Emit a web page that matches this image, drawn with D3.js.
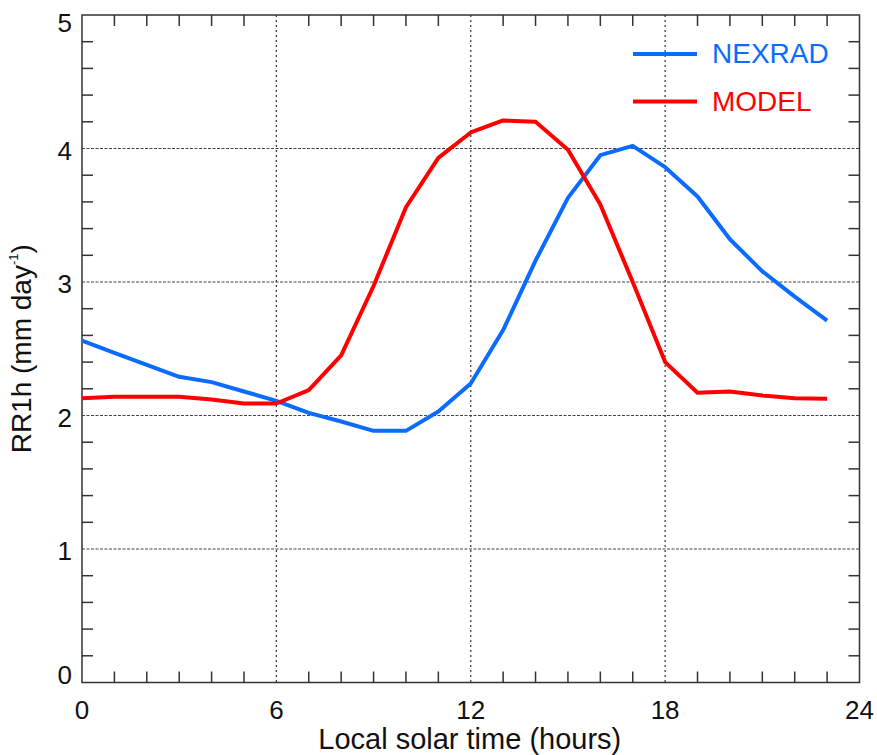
<!DOCTYPE html>
<html><head><meta charset="utf-8">
<script src="https://cdn.jsdelivr.net/npm/d3@7"></script>
<style>body{margin:0;background:#fff}</style>
</head><body>
<svg id="c" width="877" height="755"></svg>
<script>
const hours = d3.range(0, 24);
const nexrad = [2.56,2.47,2.38,2.29,2.25,2.18,2.11,2.02,1.955,1.885,1.885,2.03,2.24,2.64,3.16,3.63,3.95,4.02,3.86,3.64,3.32,3.08,2.89,2.71];
const model  = [2.13,2.14,2.14,2.14,2.12,2.09,2.09,2.19,2.45,2.97,3.56,3.93,4.12,4.21,4.20,3.99,3.58,3.00,2.40,2.17,2.18,2.15,2.13,2.125];
const xTicks = [0,6,12,18,24];
const yTicks = [0,1,2,3,4,5];
const seriesNames = ["NEXRAD","MODEL"];
const colors = ["#0a6cff","#ff0000"];

const svg = d3.select("#c");
const L=82, R=859.5, T=15, B=682.5;
const x = d3.scaleLinear().domain([0,24]).range([L,R]);
const y = d3.scaleLinear().domain([0,5]).range([B,T]);
const font = "'Liberation Sans', Arial, Helvetica, sans-serif";
const axisCol = "#333";

// grid
const g = svg.append("g");
g.selectAll("line.vg").data(xTicks.slice(1,-1)).join("line")
  .attr("x1",d=>x(d)).attr("x2",d=>x(d)).attr("y1",T).attr("y2",B)
  .attr("stroke","#333").attr("stroke-width",1.2).attr("stroke-dasharray","2,3");
g.selectAll("line.hg").data(yTicks.slice(1,-1)).join("line")
  .attr("y1",d=>y(d)).attr("y2",d=>y(d)).attr("x1",L).attr("x2",R)
  .attr("stroke","#444").attr("stroke-width",1).attr("stroke-dasharray","3,1.5");

// minor ticks
const xMinor = d3.range(1,24).filter(h=>h%6!==0);
const yMinor = d3.range(1,25).map(i=>i/5).filter(v=>Math.abs(v-Math.round(v))>1e-6);
const tl = 11;
[B,T].forEach((yy,i)=>{
  g.selectAll(null).data(xMinor).join("line")
   .attr("x1",d=>x(d)).attr("x2",d=>x(d)).attr("y1",yy).attr("y2",i===0?yy-tl:yy+tl)
   .attr("stroke",axisCol).attr("stroke-width",1.5);
});
[L,R].forEach((xx,i)=>{
  g.selectAll(null).data(yMinor).join("line")
   .attr("y1",d=>y(d)).attr("y2",d=>y(d)).attr("x1",xx).attr("x2",i===0?xx+tl:xx-tl)
   .attr("stroke",axisCol).attr("stroke-width",1.5);
});

// frame
svg.append("rect").attr("x",L).attr("y",T).attr("width",R-L).attr("height",B-T)
  .attr("fill","none").attr("stroke",axisCol).attr("stroke-width",1.5);

// tick labels
svg.selectAll("text.xt").data(xTicks).join("text")
  .attr("x",d=>x(d)).attr("y",B+36).attr("text-anchor","middle")
  .attr("font-family",font).attr("font-size",26).attr("fill","#111").text(d=>d);
svg.selectAll("text.yt").data(yTicks).join("text")
  .attr("x",L-10).attr("y",d=>y(d)+11+(d===5?6:d===0?-10:0)).attr("text-anchor","end")
  .attr("font-family",font).attr("font-size",26).attr("fill","#111").text(d=>d);

// axis titles
svg.append("text").attr("x",(L+R)/2-1).attr("y",749).attr("text-anchor","middle")
  .attr("font-family",font).attr("font-size",29).attr("fill","#111").text("Local solar time (hours)");
const yt = svg.append("text").attr("transform",`translate(31,${(T+B)/2}) rotate(-90)`)
  .attr("text-anchor","middle").attr("font-family",font).attr("font-size",28).attr("fill","#111");
yt.append("tspan").text("RR1h (mm day");
yt.append("tspan").attr("font-size",13).attr("dy",-13).text("-1");
yt.append("tspan").attr("dy",13).text(")");

// lines
const line = d3.line().x((d,i)=>x(hours[i])).y(d=>y(d));
[nexrad, model].forEach((s,i)=>{
  svg.append("path").attr("d",line(s)).attr("fill","none")
    .attr("stroke",colors[i]).attr("stroke-width",4).attr("stroke-linejoin","round");
});

// legend
seriesNames.forEach((n,i)=>{
  const ly = 54 + i*47.5;
  svg.append("line").attr("x1",633).attr("x2",697).attr("y1",ly).attr("y2",ly)
    .attr("stroke",colors[i]).attr("stroke-width",4);
  svg.append("text").attr("x",712).attr("y",ly+9).attr("font-family",font)
    .attr("font-size",28).attr("fill",colors[i]).text(n);
});
</script>
</body></html>
